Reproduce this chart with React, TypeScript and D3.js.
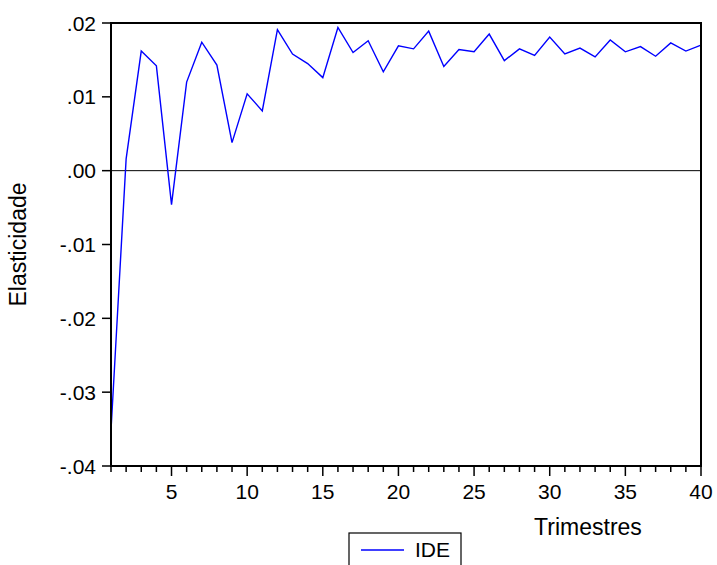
import React, { useRef, useEffect } from "react";
import * as d3 from "d3";

// quarters 1..40 and the IDE elasticity
const periods = d3.range(1, 41);
const ide = [
  -0.0352, 0.0016, 0.0162, 0.0142, -0.0046, 0.012, 0.0174, 0.0143, 0.0038, 0.0104,
  0.0081, 0.0191, 0.0158, 0.0145, 0.0126, 0.0194, 0.016, 0.0176, 0.0134, 0.0169,
  0.0165, 0.0189, 0.0141, 0.0164, 0.0161, 0.0185, 0.0149, 0.0165, 0.0156, 0.0181,
  0.0158, 0.0166, 0.0154, 0.0177, 0.0161, 0.0168, 0.0155, 0.0173, 0.0162, 0.017,
];
const yTicks = [0.02, 0.01, 0.0, -0.01, -0.02, -0.03, -0.04];
const yTickLabels = [".02", ".01", ".00", "-.01", "-.02", "-.03", "-.04"];
const xMajor = [5, 10, 15, 20, 25, 30, 35, 40];

const App = () => {
  const svgRef = useRef<SVGSVGElement>(null);

  useEffect(() => {
    const w = 717;
    const h = 565;
    const margin = { top: 23, right: 16, bottom: 99, left: 111 };
    const font = "'Liberation Sans', Arial, sans-serif";

    const svg = d3.select(svgRef.current).attr("width", w).attr("height", h);
    svg.selectAll("*").remove();

    const x = d3.scaleLinear().domain([1, 40]).range([margin.left, w - margin.right]);
    const y = d3.scaleLinear().domain([-0.04, 0.02]).range([h - margin.bottom, margin.top]);

    const x0 = x.range()[0], x1 = x.range()[1];
    const y0 = y.range()[0], y1 = y.range()[1];

    // zero line
    svg.append("line")
      .attr("x1", x0).attr("x2", x1)
      .attr("y1", y(0)).attr("y2", y(0))
      .attr("stroke", "#000").attr("stroke-width", 1);

    // series
    const line = d3.line<number>()
      .x((_, i) => x(periods[i]))
      .y((d) => y(d));
    svg.append("path")
      .datum(ide)
      .attr("d", line)
      .attr("fill", "none")
      .attr("stroke", "#0000ff")
      .attr("stroke-width", 1.4);

    // frame
    svg.append("rect")
      .attr("x", x0).attr("y", y1)
      .attr("width", x1 - x0).attr("height", y0 - y1)
      .attr("fill", "none").attr("stroke", "#000").attr("stroke-width", 2);

    // y ticks
    const yg = svg.append("g");
    yTicks.forEach((t, i) => {
      yg.append("line")
        .attr("x1", x0 - 9).attr("x2", x0)
        .attr("y1", y(t)).attr("y2", y(t))
        .attr("stroke", "#000").attr("stroke-width", 1.5);
      yg.append("text")
        .attr("x", x0 - 15).attr("y", y(t))
        .attr("dy", "0.36em")
        .attr("text-anchor", "end")
        .attr("font-family", font).attr("font-size", 21)
        .text(yTickLabels[i]);
    });

    // x ticks
    const xg = svg.append("g");
    periods.forEach((p) => {
      const major = xMajor.includes(p);
      xg.append("line")
        .attr("x1", x(p)).attr("x2", x(p))
        .attr("y1", y0).attr("y2", y0 + (major ? 10 : 6))
        .attr("stroke", "#000").attr("stroke-width", 1.5);
    });
    xMajor.forEach((p) => {
      xg.append("text")
        .attr("x", x(p)).attr("y", 499)
        .attr("text-anchor", "middle")
        .attr("font-family", font).attr("font-size", 21)
        .text(String(p));
    });

    // axis titles
    svg.append("text")
      .attr("x", 588).attr("y", 535)
      .attr("text-anchor", "middle")
      .attr("font-family", font).attr("font-size", 23)
      .text("Trimestres");
    svg.append("text")
      .attr("transform", `translate(26, ${(y0 + y1) / 2}) rotate(-90)`)
      .attr("text-anchor", "middle")
      .attr("font-family", font).attr("font-size", 23)
      .text("Elasticidade");

    // legend
    const lg = svg.append("g");
    lg.append("rect")
      .attr("x", 349).attr("y", 533)
      .attr("width", 112).attr("height", 45)
      .attr("fill", "#fff").attr("stroke", "#000").attr("stroke-width", 1.2);
    lg.append("line")
      .attr("x1", 361).attr("x2", 404)
      .attr("y1", 550).attr("y2", 550)
      .attr("stroke", "#0000ff").attr("stroke-width", 1.3);
    lg.append("text")
      .attr("x", 415).attr("y", 557)
      .attr("font-family", font).attr("font-size", 21)
      .text("IDE");
  }, []);

  return (
    <div style={{ position: "absolute", left: 0, top: 0, background: "#fff" }}>
      <svg ref={svgRef} style={{ display: "block" }}></svg>
    </div>
  );
};

export default App;
